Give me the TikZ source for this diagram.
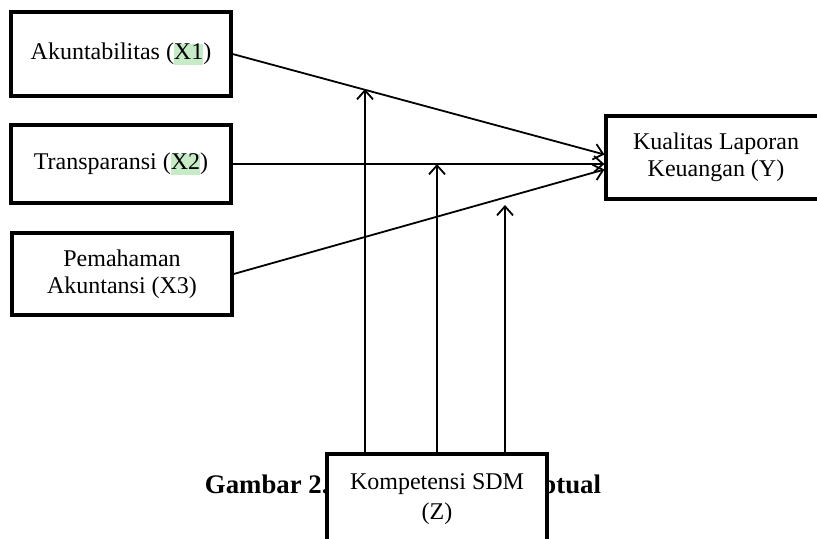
\documentclass[tikz,border=0pt]{standalone}
\usepackage{fontspec}
\setmainfont{Liberation Serif}
\usetikzlibrary{arrows.meta, positioning, calc}
\definecolor{hlgreen}{HTML}{C6EBC6}
\newcommand{\hlx}[1]{{\setlength{\fboxsep}{0pt}\colorbox{hlgreen}{\rule[-2.5pt]{0pt}{10.5pt}#1}}}

\begin{document}
\begin{tikzpicture}[x=0.5pt, y=-0.5pt, font=\fontsize{12}{13.5}\selectfont,
    var/.style={rectangle, draw=black, line width=1.6pt, fill=white,
      minimum width=110pt, align=center, inner sep=2pt},
    link/.style={line width=0.9pt, -{Straight Barb[length=4.5pt, width=8pt]}}]

    \clip (0,0) rectangle (817,538);

    % caption sits behind the moderator box
    \node (cap) at (403,487) {\fontsize{13.4}{15}\selectfont\bfseries Gambar 2.1 Kerangka Konseptual};

    \node (x1) [var, minimum height=42pt] at (121,54) {Akuntabilitas (\hlx{X1})};
    \node (x2) [var, minimum height=39pt] at (121,164) {Transparansi (\hlx{X2})};
    \node (x3) [var, minimum height=41pt] at (122,274) {Pemahaman\\Akuntansi (X3)};
    \node (y) [var, minimum height=41.5pt] at (716,157.5) {Kualitas Laporan\\Keuangan (Y)};
    \node (z) [var, minimum height=45pt, font=\fontsize{12}{15}\selectfont] at (437,499) {Kompetensi SDM\\(Z)};

    % direct effects
    \draw[link] (x1.east) -- ([yshift=1.5pt]y.west);
    \draw[link] (x2.east) -- (x2.east -| y.west);
    \draw[link] (x3.east) -- ([yshift=-6pt]y.west);

    % moderating effects
    \coordinate (m1) at (365,89);
    \coordinate (m2) at (437,164);
    \coordinate (m3) at (505,205);
    \foreach \m in {m1,m2,m3}
      \draw[link] (z.north -| \m) -- (\m);
\end{tikzpicture}
\end{document}
